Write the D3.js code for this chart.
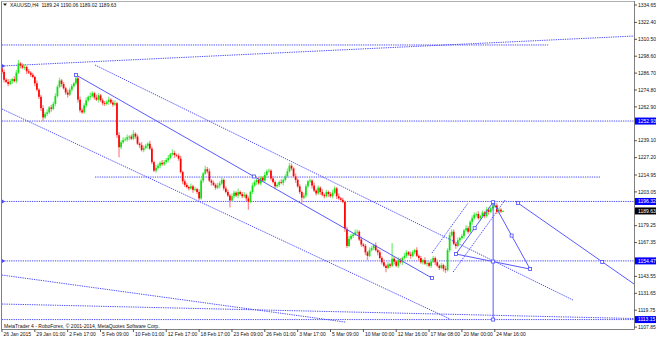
<!DOCTYPE html>
<html>
<head>
<meta charset="utf-8">
<script src="https://cdn.jsdelivr.net/npm/d3@7"></script>
<style>
  body { margin: 0; background: #fff; }
  svg { display: block; font-family: "Liberation Sans", Arial, sans-serif; }
</style>
</head>
<body>
<svg width="656" height="339"></svg>
<script>
// XAUUSD H4, one value per bar, open = previous close
const firstOpen = 1290.0;
const closes = [
  1287.5, 1282.0, 1280.5, 1279.0, 1281.0, 1282.5, 1281.0, 1287.0, 1293.5, 1292.0,
  1290.5, 1291.0, 1288.0, 1287.0, 1285.5, 1284.0, 1279.5, 1275.0, 1270.0, 1262.0,
  1255.5, 1258.0, 1259.0, 1262.5, 1261.5, 1265.0, 1270.5, 1277.0, 1281.5, 1279.0,
  1276.0, 1273.0, 1271.5, 1275.0, 1277.5, 1279.5, 1283.0, 1268.0, 1260.5, 1259.0,
  1264.0, 1267.5, 1270.0, 1270.5, 1272.5, 1269.5, 1268.0, 1271.0, 1267.5, 1265.5,
  1265.0, 1266.5, 1268.0, 1266.0, 1264.5, 1265.5, 1243.0, 1234.5, 1238.0, 1239.5,
  1240.0, 1241.5, 1242.0, 1240.5, 1244.0, 1242.0, 1237.0, 1236.0, 1232.5, 1234.0,
  1235.5, 1237.0, 1233.5, 1224.0, 1218.0, 1220.0, 1221.5, 1223.5, 1222.5, 1224.0,
  1225.5, 1227.0, 1229.5, 1230.5, 1229.0, 1228.5, 1226.5, 1217.0, 1210.5, 1208.0,
  1206.5, 1205.5, 1207.0, 1204.5, 1205.0, 1203.0, 1198.5, 1211.0, 1216.0, 1219.0,
  1217.5, 1211.0, 1209.5, 1208.0, 1206.0, 1207.5, 1209.0, 1211.5, 1205.5, 1203.0,
  1200.5, 1197.0, 1200.0, 1202.5, 1200.5, 1203.0, 1201.5, 1200.0, 1201.0, 1198.5,
  1196.0, 1203.0, 1207.5, 1210.0, 1211.5, 1209.0, 1213.0, 1211.0, 1215.0, 1217.5,
  1218.0, 1212.5, 1210.0, 1207.0, 1208.0, 1210.0, 1209.5, 1211.5, 1214.0, 1217.5,
  1221.5, 1219.5, 1214.0, 1211.5, 1207.0, 1203.0, 1199.0, 1200.5, 1207.0, 1210.5,
  1211.0, 1207.5, 1204.0, 1202.0, 1206.0, 1203.0, 1201.0, 1200.0, 1203.0, 1201.5,
  1200.0, 1202.5, 1205.5, 1200.0, 1198.5, 1197.5, 1196.0, 1177.0, 1165.0, 1170.0,
  1172.0, 1173.0, 1174.5, 1175.0, 1169.5, 1166.0, 1165.0, 1160.5, 1158.0, 1162.0,
  1163.5, 1165.5, 1162.0, 1160.5, 1156.5, 1153.5, 1151.0, 1149.5, 1152.0, 1151.0,
  1156.0, 1154.0, 1151.0, 1155.0, 1153.5, 1156.5, 1158.0, 1160.5, 1159.0, 1158.0,
  1160.5, 1162.0, 1158.0, 1156.5, 1153.5, 1155.0, 1152.5, 1153.0, 1151.0, 1154.0,
  1156.5, 1153.5, 1151.0, 1149.5, 1151.5, 1149.0, 1148.0, 1162.0, 1172.5, 1175.0,
  1166.5, 1165.0, 1169.0, 1170.5, 1172.0, 1176.0, 1177.5, 1175.0, 1182.0, 1184.5,
  1187.0, 1187.5, 1184.5, 1186.0, 1188.5, 1186.0, 1190.5, 1189.0, 1191.5, 1193.0,
  1193.5, 1189.0, 1190.5, 1189.24, 1189.63
];
const wickUp = [
  2, 1.5, 1, 2, 1.5, 1, 2, 2, 2.5, 1,
  1.5, 2, 1, 1.5, 1, 1.5, 1, 2, 1, 1.5,
  2, 1.5, 2, 1, 2, 1.5, 2, 1.5, 2, 1,
  1.5, 1, 2, 1.5, 1.5, 1, 2.3, 1.5, 2, 1.5,
  1.5, 2, 1, 2.5, 1.5, 1, 2, 1.5, 1, 1.5,
  1.5, 1, 2, 1, 1.5, 2, 1, 2, 1.5, 2,
  1.5, 2, 1, 1.5, 2.5, 1, 1.5, 1, 2, 1.5,
  1.5, 1, 2, 1.5, 1, 2, 1.5, 1, 2, 1.5,
  1.5, 2, 1, 2.5, 1.5, 1, 1.5, 2, 1, 1.5,
  1.5, 1, 2, 1, 1.5, 1, 2, 1.5, 1, 2.5,
  1.5, 2, 1, 1.5, 1, 2, 1.5, 2, 1, 1.5,
  1.5, 1, 2, 1.5, 1, 2.5, 1, 1.5, 2, 1,
  1.5, 1, 2, 1.5, 1, 2, 1.5, 1, 2, 1.5,
  1.5, 1, 2, 1, 1.5, 1, 2, 1, 1.5, 2,
  2, 1.5, 1, 2, 1, 1.5, 1, 2, 1.5, 1,
  1.5, 1, 2, 1, 1.5, 1, 2, 1, 1.5, 1,
  1.5, 2, 1.5, 1, 2, 1, 1.5, 1, 1.5, 2,
  1.5, 1, 2, 1.5, 1, 2, 1, 1.5, 1, 2,
  1.5, 1, 2, 1, 1.5, 1, 2, 1, 1.5, 1,
  11, 1.5, 1, 2, 1.5, 1, 2, 1.5, 1, 2,
  1.5, 1, 2, 1, 1.5, 1, 2, 1.5, 1, 2,
  1.5, 1, 2, 1, 1.5, 1, 2, 1.5, 2, 1.5,
  1.5, 1, 2, 1, 1.5, 1, 2, 1.5, 1, 2,
  1.5, 1, 2, 1, 1.5, 1, 2, 1.5, 1, 3,
  2, 1.5, 1, 1, 0.43
];
const wickDn = [
  1.5, 2, 1, 1.5, 1, 2, 1, 1.5, 1, 2,
  1, 1.5, 2, 1, 1.5, 1, 2, 1, 1.5, 2,
  2.5, 1, 1.5, 1, 2, 1, 1.5, 1, 1, 2,
  1, 1.5, 2, 1, 1.5, 1, 1, 2, 1.5, 1,
  1, 1.5, 1, 2, 1, 1.5, 1, 2, 1, 1.5,
  1.5, 1, 2, 1, 1.5, 1, 2, 7, 1.5, 1,
  1, 1.5, 2, 1, 1, 1.5, 1, 2, 1, 1.5,
  1, 2, 1, 1.5, 1, 1.5, 1, 2, 1, 1,
  1, 1.5, 1, 1, 2, 1, 1.5, 1, 2, 1.5,
  1, 1.5, 1, 2, 1, 1.5, 1.5, 1, 1.5, 1,
  1.5, 1, 2, 1, 1.5, 1, 2, 1, 1.5, 1,
  1, 5, 1, 1.5, 1, 2, 1, 1.5, 1, 2,
  5.5, 1, 1.5, 1, 2, 1, 1.5, 1, 1, 2,
  1, 1.5, 1, 2, 1, 1.5, 1, 2, 1, 1,
  1, 1.5, 1, 2, 1, 1.5, 4, 1, 1.5, 1,
  1, 2, 1, 1.5, 1, 2, 1, 1.5, 1, 2,
  1, 1.5, 1, 2, 1, 1.5, 1, 2, 1.5, 1,
  1, 1.5, 1, 2, 1, 1.5, 1, 2, 3, 1,
  1, 1.5, 1, 2, 1, 1.5, 1, 3, 1, 1.5,
  1, 2, 1, 1.5, 1, 2, 1, 1.5, 1, 2,
  1, 1.5, 1, 2, 1, 1.5, 1, 2, 1, 1.5,
  1, 2, 1, 1.5, 1, 2, 2, 1, 1.5, 1,
  1, 2, 1, 1.5, 1, 2, 1, 1.5, 1, 2,
  1, 1.5, 1, 2, 1, 1.5, 1, 2, 1, 1.5,
  1, 1.5, 1, 1, 0.22
];

const priceTicks = [1334.65, 1322.40, 1310.50, 1298.60, 1286.70, 1274.80, 1262.90, 1239.10,
  1227.20, 1214.95, 1203.05, 1179.25, 1167.35, 1143.55, 1131.65, 1119.75, 1107.85];
const levelPrices = [1252.93, 1196.32, 1154.47, 1113.15];
const lastPrice = 1189.63;
const timeLabels = ['26 Jan 2015', '29 Jan 01:00', '2 Feb 17:00', '5 Feb 09:00', '10 Feb 01:00',
  '12 Feb 17:00', '18 Feb 17:00', '23 Feb 09:00', '26 Feb 01:00', '3 Mar 17:00', '5 Mar 09:00',
  '10 Mar 00:00', '12 Mar 16:00', '17 Mar 08:00', '20 Mar 00:00', '24 Mar 16:00'];
const barsPerLabel = 16;
const title = 'XAUUSD,H4  1189.24 1190.06 1189.02 1189.63';
const copyright = 'MetaTrader 4 - RoboForex, \u00a9 2001-2014, MetaQuotes Software Corp.';

// chart objects as [bar index, price]
const lastBar = 307.8;
const dottedLines = [
  [[0, 1306.5], [266.0, 1306.5]],
  [[0, 1291.7], [lastBar, 1312.8]],
  [[45.3, 1292.4], [278.1, 1126.9]],
  [[0, 1261.4], [218.2, 1113.5]],
  [[45.3, 1213.5], [291.3, 1213.5]],
  [[0, 1144.5], [167.1, 1111.4]],
  [[0, 1124.1], [lastBar, 1113.9]],
  [[209.4, 1160.0], [227.0, 1195.2]],
  [[219.7, 1146.6], [245.0, 1197.3]]
];
const solidLines = [
  [[36.0, 1285.4], [209.4, 1142.4]],
  [[221.1, 1159.3], [239.2, 1195.8]],
  [[239.2, 1195.8], [257.2, 1148.7]],
  [[221.1, 1159.3], [257.2, 1148.7]],
  [[239.2, 1195.8], [239.2, 1113.15]],
  [[251.3, 1195.2], [lastBar, 1138.2]]
];
const anchors = [
  [36.0, 1285.4], [122.7, 1213.9], [209.4, 1142.4], [221.1, 1159.3], [230.2, 1177.5],
  [239.2, 1195.8], [248.2, 1172.3], [257.2, 1148.7], [239.2, 1154.0], [239.2, 1113.15],
  [251.3, 1195.2], [292.3, 1153.7]
];
const edgeMarks = [1291.7, 1196.32, 1154.47];

const svg = d3.select('svg');
const plotLeft = 2, plotRight = 634, plotTop = 1, plotBottom = 329;
const x = d3.scaleLinear().domain([0, lastBar]).range([plotLeft, plotRight]);
const y = d3.scaleLinear().domain([1107.85, 1334.65]).range([327.1, 5]);
const blue = '#3a3aff';

const candles = closes.map((c, i) => {
  const o = i === 0 ? firstOpen : closes[i - 1];
  return { i, o, c, h: Math.max(o, c) + wickUp[i], l: Math.min(o, c) - wickDn[i] };
});

svg.append('clipPath').attr('id', 'plot')
  .append('rect')
  .attr('x', plotLeft).attr('y', plotTop)
  .attr('width', plotRight - plotLeft).attr('height', plotBottom - plotTop);

const plot = svg.append('g').attr('clip-path', 'url(#plot)');
const line = d3.line().x(d => x(d[0])).y(d => y(d[1]));

const levels = levelPrices.map(p => [[0, p], [lastBar, p]]);
plot.append('g').selectAll('path')
  .data(dottedLines.concat(levels))
  .enter().append('path')
  .attr('d', line)
  .attr('fill', 'none')
  .attr('stroke', blue)
  .attr('stroke-opacity', 0.9)
  .attr('stroke-dasharray', '1.3,1')
  .attr('stroke-width', 1);

const candle = plot.append('g').selectAll('g')
  .data(candles)
  .enter().append('g');

candle.append('line')
  .attr('x1', d => x(d.i)).attr('x2', d => x(d.i))
  .attr('y1', d => y(d.h)).attr('y2', d => y(d.l))
  .attr('stroke', d => d.c >= d.o ? '#7ef07e' : '#ff8c8c')
  .attr('stroke-width', 1.3);

candle.append('rect')
  .attr('x', d => x(d.i) - 0.85)
  .attr('width', 1.7)
  .attr('y', d => y(Math.max(d.o, d.c)))
  .attr('height', d => Math.max(0.8, Math.abs(y(d.o) - y(d.c))))
  .attr('fill', d => d.c >= d.o ? '#10e010' : '#ff0000');

plot.append('g').selectAll('path')
  .data(solidLines)
  .enter().append('path')
  .attr('d', line)
  .attr('fill', 'none')
  .attr('stroke', '#5a5aff')
  .attr('stroke-width', 1);

plot.append('g').selectAll('rect')
  .data(anchors)
  .enter().append('rect')
  .attr('x', d => x(d[0]) - 1.5)
  .attr('y', d => y(d[1]) - 1.5)
  .attr('width', 3).attr('height', 3)
  .attr('fill', '#fff')
  .attr('stroke', '#4a4aff')
  .attr('stroke-width', 0.8);

plot.append('g').selectAll('path')
  .data(edgeMarks)
  .enter().append('path')
  .attr('d', d => `M${x(0)},${y(d) - 2} L${x(0) + 3},${y(d)} L${x(0)},${y(d) + 2} Z`)
  .attr('fill', '#4a4aff');

// frame
const frame = svg.append('g').attr('stroke', '#808080').attr('stroke-width', 1);
frame.append('line').attr('x1', 1.5).attr('x2', 1.5).attr('y1', plotTop).attr('y2', plotBottom + 0.5);
frame.append('line').attr('x1', 1.5).attr('x2', plotRight + 0.5).attr('y1', 1.5).attr('y2', 1.5).attr('stroke', '#b0b0b0');
frame.append('line').attr('x1', plotRight + 0.5).attr('x2', plotRight + 0.5).attr('y1', plotTop).attr('y2', plotBottom + 0.5);
frame.append('line').attr('x1', 1.5).attr('x2', plotRight + 0.5).attr('y1', plotBottom + 0.5).attr('y2', plotBottom + 0.5);

// price scale
const priceAxis = svg.append('g').attr('font-size', 5);
const priceTick = priceAxis.selectAll('g.tick')
  .data(priceTicks)
  .enter().append('g')
  .attr('transform', d => `translate(0,${y(d)})`);
priceTick.append('line')
  .attr('x1', plotRight).attr('x2', plotRight + 3)
  .attr('stroke', '#555');
priceTick.append('text')
  .attr('x', plotRight + 4).attr('dy', '0.35em')
  .attr('fill', '#111')
  .text(d => d.toFixed(2));

const marked = levelPrices.map(p => ({ p, bg: '#0000ff' })).concat([{ p: lastPrice, bg: '#000' }]);
const mark = priceAxis.selectAll('g.mark')
  .data(marked)
  .enter().append('g')
  .attr('transform', d => `translate(0,${y(d.p)})`);
mark.append('rect')
  .attr('x', plotRight + 1).attr('y', -3.5)
  .attr('width', 656 - plotRight - 1).attr('height', 7)
  .attr('fill', d => d.bg);
mark.append('text')
  .attr('x', plotRight + 4).attr('dy', '0.35em')
  .attr('fill', '#fff')
  .text(d => d.p.toFixed(2));

// time scale
const timeAxis = svg.append('g').attr('font-size', 5);
const timeTick = timeAxis.selectAll('g')
  .data(timeLabels)
  .enter().append('g')
  .attr('transform', (d, k) => `translate(${x(k * barsPerLabel)},0)`);
timeTick.append('line')
  .attr('y1', plotBottom).attr('y2', plotBottom + 3)
  .attr('stroke', '#555');
timeTick.append('text')
  .attr('x', 1.5).attr('y', 335.5)
  .attr('fill', '#111')
  .text(d => d);

svg.append('path')
  .attr('d', 'M3,3.5 L7,3.5 L5,6 Z')
  .attr('fill', '#222');
svg.append('text')
  .attr('x', 10).attr('y', 6.8)
  .attr('font-size', 5)
  .attr('fill', '#111')
  .attr('xml:space', 'preserve')
  .text(title);

svg.append('text')
  .attr('x', 4).attr('y', 327.5)
  .attr('font-size', 5)
  .attr('fill', '#111')
  .text(copyright);
</script>
</body>
</html>
